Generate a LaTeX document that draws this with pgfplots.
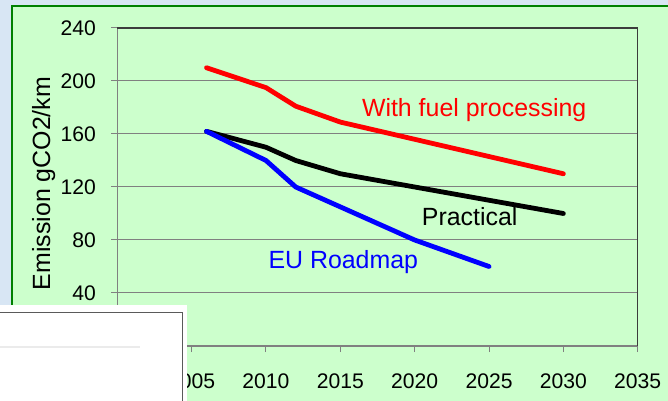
\documentclass[border=0pt]{standalone}
\usepackage{pgfplots}
\pgfplotsset{compat=1.18}
\usepackage{fontspec}
\setmainfont{Liberation Sans}
\definecolor{bgblue}{RGB}{216,230,244}
\definecolor{panel}{RGB}{204,255,204}
\definecolor{panelborder}{RGB}{0,128,0}
\definecolor{gridgray}{RGB}{128,128,128}
\definecolor{darkedge}{RGB}{60,60,60}
\begin{document}
\begin{tikzpicture}
\fill[bgblue] (0,0) rectangle (668bp,401bp);
\fill[panel, draw=panelborder, line width=2bp] (12bp,-10bp) rectangle (680bp,395bp);
\begin{axis}[
  at={(117.3bp,55bp)}, anchor=south west,
  scale only axis, width=520.4bp, height=318bp,
  xmin=2000, xmax=2035, ymin=0, ymax=240,
  xtick={2005,2010,...,2035}, ytick={40,80,...,240},
  extra x ticks={2000}, extra x tick labels={},
  extra y ticks={0}, extra y tick labels={},
  ymajorgrids, grid style={gridgray, line width=1bp},
  axis line style={draw=none},
  tick align=outside, major tick length=6bp,
  tick style={gridgray, line width=1bp},
  xtick pos=left, ytick pos=left,
  /pgf/number format/assume math mode=true,
  /pgf/number format/1000 sep={},
  every tick label/.append style={font=\fontsize{21.2}{24}\selectfont, text=black},
  xticklabel style={anchor=base, yshift=-36bp},
  yticklabel style={anchor=east, xshift=-12bp},
  clip=false,
]
\addplot[red, line width=4.8bp, line join=round, line cap=round] coordinates {
  (2006,210) (2010,195) (2012,181) (2015,169) (2020,156) (2025,143) (2030,130)};
\addplot[black, line width=4.8bp, line join=round, line cap=round] coordinates {
  (2006,162) (2010,150) (2012,140) (2015,130) (2020,120) (2025,110) (2030,100)};
\addplot[blue, line width=4.8bp, line join=round, line cap=round] coordinates {
  (2006,162) (2010,140) (2012,120) (2015,105) (2020,80) (2025,60)};
\draw[gridgray, line width=1.5bp] (rel axis cs:0,1) -- (rel axis cs:0,0) -- (rel axis cs:1,0);
\draw[darkedge, line width=1.5bp] (rel axis cs:0,1) -- (rel axis cs:1,1) -- (rel axis cs:1,0);
\node[red, anchor=base, font=\fontsize{25}{30}\selectfont] at (axis cs:2024,173) {With fuel processing};
\node[black, anchor=base, font=\fontsize{25}{30}\selectfont] at (axis cs:2023.7,90.6) {Practical};
\node[blue, anchor=base, font=\fontsize{25}{30}\selectfont] at (axis cs:2015.2,58.6) {EU Roadmap};
\end{axis}
\node[rotate=90, anchor=base, font=\fontsize{25}{30}\selectfont] at (50bp,217.5bp) {Emission gCO2/km};
\fill[white] (0,0) rectangle (187bp,96bp);
\draw[gridgray!70!black, line width=1.5bp] (0,88.3bp) -- (182.7bp,88.3bp) -- (182.7bp,-2bp);
\draw[black!8, line width=1.5bp] (0,54bp) -- (140bp,54bp);
\pgfresetboundingbox
\useasboundingbox (0,0) rectangle (668bp,401bp);
\end{tikzpicture}
\end{document}
